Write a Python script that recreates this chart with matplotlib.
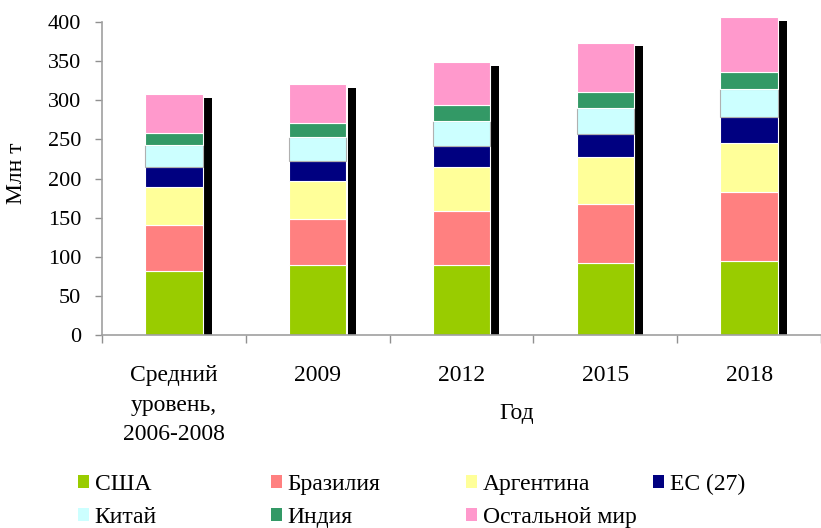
import matplotlib
matplotlib.use("Agg")
import matplotlib.pyplot as plt
import numpy as np
from matplotlib.patches import Patch

plt.rcParams['font.family'] = ['Liberation Serif', 'DejaVu Serif']

categories = ["Средний\nуровень,\n2006-2008", "2009", "2012", "2015", "2018"]
series_names = ["США", "Бразилия", "Аргентина", "ЕС (27)", "Китай", "Индия", "Остальной мир"]
usa = [82, 89.5, 89.5, 91.5, 94.5]
brazil = [58.5, 58.5, 68.5, 76.5, 88.5]
argentina = [49, 49, 57, 59, 62]
eu27 = [25, 25.5, 27, 30, 33]
china = [28.5, 31, 31.5, 33.5, 36]
india = [15, 17, 20, 20, 22]
rest = [50, 50, 55, 63, 70]
yticks = [0, 50, 100, 150, 200, 250, 300, 350, 400]

series = [usa, brazil, argentina, eu27, china, india, rest]
colors = ["#99CC00", "#FF8080", "#FFFF99", "#000080", "#CCFFFF", "#339966", "#FF99CC"]
edges = ["white", "white", "white", "white", "#B0B0B0", "white", "white"]

W, H = 821, 528
fig = plt.figure(figsize=(W / 100, H / 100), dpi=100)
ax = fig.add_axes([102 / W, 1 - 335 / H, (821 - 102) / W, (335 - 22) / H])

x = np.arange(len(categories))
bw = 0.4
totals = np.sum(np.array(series), axis=0)

# black shadow bar behind each stack
ax.bar(x + bw / 2 + 0.008, totals - 4.5, width=0.055, align='edge', color='black',
       zorder=1, clip_on=False)

bottom = np.zeros(len(categories))
for name, vals, c, ec in zip(series_names, series, colors, edges):
    ax.bar(x, vals, bw, bottom=bottom, color=c, edgecolor=ec, linewidth=0.8, label=name,
           zorder=2, clip_on=False)
    bottom += np.array(vals)

ax.set_xlim(-0.5, len(categories) - 0.5)
ax.set_ylim(0, 400)
ax.set_yticks(yticks)
ax.tick_params(axis='y', labelsize=16, length=5, width=1, color='#909090', pad=10)
ax.set_xticks(x)
ax.set_xticklabels(categories, fontsize=17, linespacing=1.55)
ax.set_xticks(np.arange(len(categories) + 1) - 0.5, minor=True)
ax.tick_params(axis='x', which='major', length=0, pad=21.5)
ax.tick_params(axis='x', which='minor', length=6, width=1, color='#909090')
for s in ['top', 'right']:
    ax.spines[s].set_visible(False)
for s in ['left', 'bottom']:
    ax.spines[s].set_color('#A0A0A0')
    ax.spines[s].set_linewidth(1.2)

fig.text(17 / W, 1 - 173 / H, "Млн т", rotation=90, ha='center', va='center', fontsize=17)
fig.text(517 / W, 1 - 413 / H, "Год", ha='center', va='center', fontsize=17)

# legend: 4 columns, 2 rows
col_x = [78, 271, 466, 653]
handles = [Patch(facecolor=c, edgecolor='none') for c in colors]
order = [[0, 4], [1, 5], [2, 6], [3]]
for cx, idxs in zip(col_x, order):
    fig.legend([handles[i] for i in idxs], [series_names[i] for i in idxs],
               loc='upper left', bbox_to_anchor=(cx / W, 1 - 474 / H),
               frameon=False, fontsize=17, handlelength=0.45, handleheight=0.45,
               handletextpad=0.25, labelspacing=0.5, borderpad=0, borderaxespad=0)

fig.savefig("out.png", dpi=100)
